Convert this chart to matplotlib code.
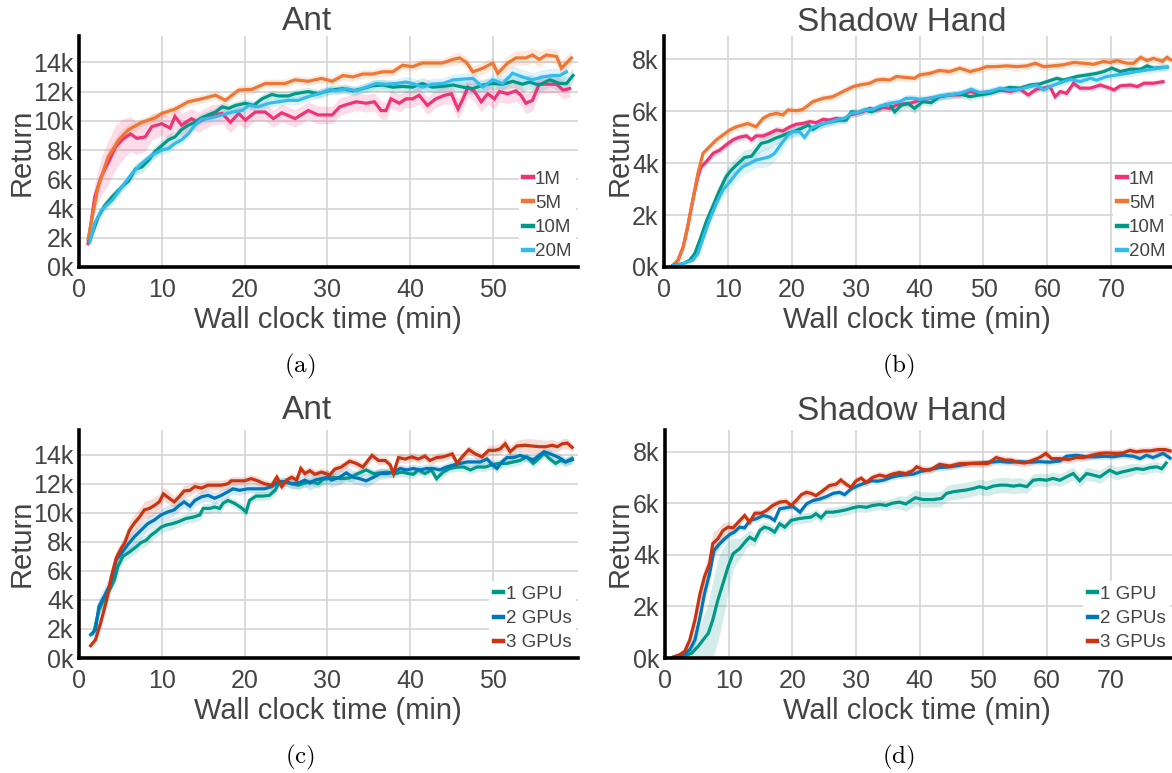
import matplotlib
matplotlib.use('Agg')
import matplotlib.pyplot as plt
from matplotlib.lines import Line2D
import numpy as np

plt.rcParams['font.family'] = ['Liberation Sans', 'DejaVu Sans']
plt.rcParams['mathtext.fontset'] = 'cm'

TEXT = '#444444'
GRID = '#d4d4d4'
C_MAG, C_ORA, C_TEAL, C_CYAN = '#EE3377', '#EE7733', '#009988', '#33BBEE'
C_BLUE, C_RED = '#0077BB', '#CC3311'

# ---------------- data: (a) Ant, buffer sizes (returns in thousands) ----------------
A_1M_t = [1.1,1.9,2.7,3.5,4.4,5.2,6.2,7.0,8.0,8.8,10.0,11.0,11.6,12.4,13.6,14.4,16.0,17.3,18.3,19.3,20.1,21.3,22.5,23.5,24.5,26.1,27.7,28.9,30.6,31.5,32.3,33.5,34.7,35.7,36.5,37.1,37.7,38.7,39.5,40.3,41.1,42.1,43.1,44.2,45.0,45.8,46.4,47.0,47.8,48.6,49.4,50.2,50.8,51.8,52.8,53.4,54.0,54.8,55.6,56.6,57.7,58.5,59.3]
A_1M_y = [1.6,4.8,6.2,7.1,8.2,8.7,9.1,8.8,8.9,9.6,9.8,9.5,10.3,9.7,10.15,9.9,10.4,10.5,9.9,10.5,10.05,10.6,10.6,10.15,10.55,10.15,10.7,10.4,10.4,10.95,11.1,11.3,11.2,11.3,10.7,10.7,11.5,11.2,11.5,11.5,11.75,11.05,11.5,11.75,11.85,10.8,11.5,12.3,12.0,11.3,11.85,11.5,12.0,11.85,12.05,11.75,11.2,11.4,12.5,12.5,12.5,12.1,12.2]
A_1M_w = [0.3,0.9,1.3,1.5,1.5,1.4,1.2,1.1,1.0,0.9,0.8,0.8,0.8,0.8,0.7,0.7,0.7,0.7,0.7,0.7,0.6,0.6,0.6,0.6,0.6,0.6,0.6,0.6,0.6,0.6,0.6,0.6,0.6,0.6,0.6,0.6,0.6,0.6,0.6,0.6,0.6,0.6,0.6,0.6,0.7,0.7,0.7,0.7,0.7,0.7,0.7,0.7,0.7,0.7,0.7,0.7,0.7,0.7,0.7,0.6,0.6,0.6,0.6]

A_5M_t = [1.1,2.3,3.5,4.8,6.0,7.6,9.2,10.0,11.6,13.2,14.8,16.5,17.7,19.3,20.9,22.5,23.7,24.9,26.1,27.7,29.3,30.6,31.9,33.1,34.3,35.5,36.7,37.9,39.1,40.3,41.5,42.7,43.9,45.2,46.0,46.8,47.6,48.8,50.0,50.6,51.8,52.8,54.0,54.8,55.6,56.5,57.7,58.3,59.5]
A_5M_y = [1.9,5.5,7.5,8.7,9.4,9.9,10.2,10.5,10.8,11.3,11.5,11.75,11.4,12.1,12.15,12.55,12.55,12.55,12.8,12.7,12.9,12.7,13.1,13.0,13.2,13.2,13.35,13.35,13.8,13.7,13.95,13.95,13.95,14.2,14.3,14.0,13.35,13.6,13.95,13.25,13.95,14.3,14.3,14.5,14.2,14.5,14.4,13.6,14.3]
A_5M_w = [0.2,0.4,0.5,0.5,0.4,0.3,0.3,0.3,0.3,0.3,0.3,0.3,0.3,0.3,0.3,0.3,0.3,0.3,0.3,0.3,0.3,0.3,0.3,0.3,0.3,0.3,0.3,0.3,0.3,0.3,0.3,0.3,0.3,0.4,0.4,0.4,0.4,0.4,0.4,0.4,0.5,0.5,0.5,0.5,0.5,0.5,0.5,0.5,0.5]

A_10M_t = [1.3,2.3,3.1,4.0,5.2,6.0,6.8,7.6,8.4,9.2,10.0,10.8,11.6,12.4,13.2,14.0,14.8,15.6,16.5,17.3,18.1,18.9,20.1,21.1,22.1,23.3,24.1,25.3,26.1,27.7,28.9,30.4,31.9,33.1,34.3,35.5,36.7,37.9,39.1,40.3,41.5,42.7,43.9,45.2,46.4,47.6,48.8,50.0,51.2,52.4,53.6,54.4,55.6,56.9,58.1,58.9,59.7]
A_10M_y = [1.8,3.4,4.2,4.8,5.5,5.9,6.7,6.85,7.3,7.9,8.3,8.7,8.9,9.4,9.7,9.9,10.2,10.4,10.6,10.95,10.85,11.05,11.2,11.05,11.5,11.8,11.7,11.7,11.85,12.0,11.85,12.1,12.2,12.05,12.2,12.4,12.45,12.3,12.35,12.3,12.55,12.3,12.35,12.45,12.3,12.2,12.45,12.55,12.5,12.7,12.5,12.65,12.45,12.8,12.55,12.55,13.1]
A_10M_w = [0.2,0.3,0.3,0.3,0.3,0.3,0.4,0.4,0.4,0.4,0.4,0.4,0.4,0.4,0.4,0.3,0.3,0.3,0.3,0.3,0.3,0.3,0.3,0.3,0.3,0.3,0.3,0.3,0.3,0.3,0.3,0.3,0.3,0.3,0.3,0.4,0.4,0.4,0.4,0.4,0.4,0.4,0.4,0.4,0.4,0.4,0.4,0.4,0.4,0.4,0.5,0.5,0.5,0.5,0.5,0.5,0.5]

A_20M_t = [1.3,1.9,2.7,4.0,5.2,6.4,7.6,8.8,10.0,10.8,11.6,12.4,13.2,14.0,14.8,16.0,17.3,18.5,19.7,20.5,21.7,22.9,24.1,25.3,26.5,27.7,28.9,30.4,31.0,32.3,33.5,34.7,35.9,37.1,38.3,39.5,40.3,41.5,42.7,44.0,45.2,46.4,47.6,48.8,50.0,51.2,52.4,53.6,54.8,56.0,57.3,58.1,58.9]
A_20M_y = [1.7,3.0,3.9,4.55,5.5,6.4,7.1,7.65,8.0,8.1,8.45,8.7,9.1,9.7,10.1,10.2,10.4,10.6,10.7,11.05,10.95,11.2,11.3,11.4,11.4,11.65,11.85,12.15,12.05,12.2,12.05,12.3,12.55,12.5,12.55,12.65,12.55,12.3,12.5,12.55,12.8,12.85,12.9,12.3,12.8,12.55,13.25,13.0,12.8,13.0,13.1,13.1,13.35]
A_20M_w = [0.2,0.3,0.3,0.3,0.3,0.3,0.3,0.3,0.3,0.3,0.3,0.3,0.3,0.3,0.3,0.3,0.3,0.3,0.3,0.3,0.3,0.3,0.3,0.3,0.3,0.3,0.3,0.3,0.3,0.3,0.3,0.3,0.3,0.3,0.3,0.4,0.4,0.4,0.4,0.4,0.4,0.4,0.4,0.4,0.4,0.5,0.5,0.5,0.5,0.5,0.5,0.5,0.5]

# ---------------- data: (b) Shadow Hand, buffer sizes ----------------
B_1M_t = [1.4,2.2,3.0,3.7,4.5,5.3,5.8,6.6,7.7,8.7,9.7,10.8,11.8,12.9,13.7,14.4,15.5,16.5,17.6,18.6,19.7,20.7,21.7,22.8,23.8,24.9,25.9,27.0,28.0,29.1,30.1,31.1,32.2,33.2,34.3,35.3,36.4,37.4,38.5,40.0,41.6,43.1,44.7,46.3,47.9,49.4,51.0,52.6,54.2,55.7,57.0,58.3,59.4,60.4,61.2,62.0,63.0,64.1,65.1,66.7,68.3,69.8,70.4,71.4,73.0,74.1,75.1,76.6,78.1]
B_1M_y = [0.06,0.26,0.77,1.54,2.57,3.47,3.86,4.05,4.38,4.5,4.7,4.9,5.0,5.05,4.9,5.05,5.05,5.15,5.28,5.24,5.4,5.5,5.53,5.6,5.56,5.69,5.66,5.73,5.66,5.86,5.92,5.98,6.11,6.05,6.15,6.11,6.24,6.28,6.3,6.43,6.5,6.56,6.63,6.63,6.76,6.69,6.76,6.82,6.76,6.85,6.63,6.85,6.89,6.95,6.56,6.76,6.69,7.08,6.89,6.89,7.01,6.89,6.82,6.98,7.01,6.95,7.08,7.08,7.14]
B_1M_w = [0.05,0.1,0.1,0.15,0.15,0.15,0.15,0.15,0.15,0.15,0.15,0.15,0.15,0.15,0.15,0.15,0.15,0.15,0.15,0.15,0.12,0.12,0.12,0.12,0.12,0.12,0.12,0.12,0.12,0.12,0.12,0.12,0.12,0.12,0.12,0.12,0.12,0.12,0.12,0.12,0.12,0.12,0.12,0.12,0.12,0.12,0.12,0.12,0.12,0.12,0.12,0.12,0.12,0.12,0.12,0.12,0.12,0.12,0.12,0.12,0.12,0.12,0.12,0.12,0.12,0.12,0.12,0.12,0.12]

B_5M_t = [1.4,2.2,3.0,3.7,4.5,5.3,6.1,7.1,8.2,9.2,10.3,11.3,12.3,13.1,14.4,15.5,16.5,17.6,18.6,19.4,20.7,21.7,23.3,24.9,26.4,28.0,29.6,30.6,32.2,33.2,34.3,35.3,36.4,37.9,39.2,40.0,41.6,43.1,44.7,46.3,47.9,49.4,50.5,52.0,53.6,55.2,56.8,58.1,59.4,60.9,62.5,64.1,65.7,67.2,68.8,69.8,70.9,72.5,73.5,74.6,75.6,76.6,78.0,78.7,79.3]
B_5M_y = [0.06,0.26,0.77,1.54,2.57,3.6,4.38,4.63,4.9,5.08,5.28,5.4,5.47,5.53,5.4,5.73,5.86,5.92,5.86,6.05,6.02,6.07,6.37,6.5,6.56,6.76,6.95,7.01,7.08,7.2,7.23,7.2,7.34,7.3,7.27,7.4,7.46,7.57,7.53,7.66,7.53,7.62,7.72,7.72,7.75,7.72,7.75,7.85,7.72,7.75,7.79,7.88,7.85,7.81,7.92,7.88,7.95,7.85,7.85,8.08,7.95,8.04,7.92,8.08,7.98]
B_5M_w = [0.05,0.1,0.1,0.1,0.1,0.15,0.15,0.15,0.15,0.15,0.15,0.15,0.15,0.15,0.15,0.15,0.15,0.15,0.15,0.15,0.15,0.15,0.15,0.15,0.15,0.15,0.15,0.15,0.15,0.15,0.15,0.15,0.15,0.15,0.15,0.15,0.15,0.15,0.15,0.15,0.15,0.15,0.15,0.15,0.15,0.15,0.15,0.15,0.15,0.15,0.15,0.15,0.15,0.15,0.15,0.15,0.15,0.15,0.15,0.15,0.15,0.15,0.15,0.15,0.15]

B_10M_t = [1.4,3.0,4.0,4.8,5.6,6.6,7.7,8.7,9.7,10.5,11.6,12.6,13.7,14.4,15.2,16.3,17.3,18.4,19.4,20.2,21.5,22.6,23.3,24.4,25.4,26.4,27.5,28.5,29.3,30.4,31.4,32.5,33.5,34.5,35.3,36.1,37.2,38.2,39.2,40.5,41.8,43.1,44.7,46.3,47.9,49.4,51.0,52.6,54.1,55.7,57.3,58.8,59.9,61.5,62.5,63.6,64.6,66.2,67.7,68.8,70.1,71.4,73.0,74.6,75.6,76.6,78.7]
B_10M_y = [0.06,0.13,0.26,0.51,1.03,1.74,2.38,2.96,3.47,3.73,3.99,4.22,4.27,4.5,4.76,4.83,4.95,5.05,5.15,5.21,5.34,5.47,5.3,5.47,5.56,5.6,5.66,5.66,5.98,5.95,6.05,5.98,6.11,6.24,6.28,5.98,6.24,6.3,6.11,6.37,6.33,6.56,6.63,6.67,6.56,6.63,6.69,6.82,6.92,6.89,7.01,7.05,7.14,7.27,7.2,7.27,7.34,7.4,7.46,7.53,7.66,7.53,7.62,7.62,7.75,7.66,7.7]
B_10M_w = [0.05,0.05,0.05,0.1,0.15,0.2,0.2,0.25,0.3,0.3,0.3,0.3,0.3,0.3,0.3,0.3,0.25,0.25,0.2,0.2,0.2,0.15,0.15,0.15,0.15,0.15,0.15,0.15,0.15,0.15,0.15,0.15,0.15,0.15,0.2,0.2,0.2,0.2,0.2,0.15,0.15,0.15,0.15,0.15,0.15,0.12,0.12,0.12,0.12,0.12,0.12,0.12,0.12,0.12,0.12,0.12,0.12,0.12,0.12,0.12,0.12,0.12,0.12,0.12,0.12,0.12,0.12]

B_20M_t = [1.4,3.0,4.5,5.3,6.1,7.1,8.2,9.2,10.3,11.3,12.3,13.4,14.4,15.5,16.5,17.3,18.4,19.4,20.2,21.2,22.0,23.0,24.1,25.1,26.2,27.2,28.3,29.3,30.4,31.4,32.7,33.8,34.8,35.8,36.9,37.9,39.2,40.0,41.6,43.1,44.7,46.3,48.1,49.4,51.0,52.6,54.1,55.7,57.3,58.3,59.4,60.4,62.0,63.6,65.1,66.7,67.7,69.3,70.9,72.5,74.0,75.6,77.2,78.8]
B_20M_y = [0.04,0.13,0.26,0.51,1.09,1.8,2.45,2.96,3.28,3.6,3.86,3.99,4.12,4.18,4.25,4.38,4.76,5.08,5.21,5.21,5.0,5.34,5.47,5.53,5.6,5.69,5.73,5.92,5.95,6.05,6.07,6.2,6.24,6.33,6.37,6.5,6.5,6.46,6.5,6.59,6.63,6.69,6.85,6.72,6.76,6.89,6.82,6.85,6.95,7.01,6.82,6.95,7.1,7.23,7.14,7.27,7.2,7.34,7.4,7.46,7.53,7.59,7.66,7.7]
B_20M_w = [0.05,0.05,0.05,0.1,0.15,0.2,0.2,0.25,0.3,0.3,0.3,0.3,0.3,0.35,0.35,0.3,0.3,0.25,0.2,0.2,0.15,0.15,0.15,0.15,0.15,0.15,0.15,0.15,0.15,0.15,0.15,0.15,0.15,0.15,0.15,0.15,0.15,0.15,0.15,0.15,0.15,0.15,0.15,0.15,0.15,0.15,0.15,0.15,0.15,0.15,0.15,0.15,0.15,0.15,0.15,0.15,0.15,0.15,0.15,0.15,0.15,0.15,0.15,0.15]

# ---------------- data: (c) Ant, number of GPUs ----------------
C_1G_t = [1.4,1.8,2.4,3.0,3.7,4.3,4.7,5.3,6.1,6.9,7.5,8.1,8.7,9.3,9.9,10.5,11.3,12.1,12.9,13.8,14.6,15.0,15.8,16.4,17.0,17.4,18.0,18.8,19.6,20.2,20.6,21.4,22.2,23.0,23.7,24.1,24.9,25.7,26.5,27.3,28.1,28.9,29.5,30.1,30.7,31.7,32.7,33.7,34.7,35.6,36.4,37.2,38.2,39.0,39.8,40.4,41.0,41.8,42.6,43.2,44.0,44.8,45.7,46.5,47.3,48.1,49.1,49.9,50.7,51.7,52.5,53.3,54.1,54.9,55.6,56.2,56.8,57.6,58.2,58.8,59.6]
C_1G_y = [1.6,1.8,3.3,4.0,4.7,5.4,6.3,7.0,7.3,7.65,7.95,8.1,8.45,8.7,9.0,9.15,9.25,9.4,9.6,9.7,9.85,10.3,10.3,10.4,10.3,10.65,10.85,10.65,10.35,10.05,10.85,11.15,11.15,11.2,11.55,12.0,12.15,12.0,11.9,12.05,12.15,12.0,12.3,12.35,12.45,12.35,12.4,12.7,12.95,12.7,12.75,12.8,12.7,12.8,12.7,12.65,12.95,12.7,12.95,12.35,12.8,13.05,13.15,13.15,12.95,13.15,13.15,13.3,13.4,13.4,13.5,13.6,13.85,13.4,13.75,14.1,13.75,13.4,13.6,13.5,13.75]
C_1G_w = [0.2,0.3,0.4,0.4,0.4,0.4,0.4,0.4,0.4,0.4,0.4,0.4,0.4,0.4,0.4,0.4,0.4,0.35,0.35,0.35,0.35,0.35,0.35,0.35,0.35,0.3,0.3,0.3,0.3,0.3,0.3,0.3,0.3,0.3,0.3,0.3,0.3,0.3,0.3,0.3,0.3,0.3,0.3,0.3,0.3,0.3,0.3,0.3,0.3,0.3,0.3,0.3,0.3,0.3,0.3,0.3,0.3,0.3,0.3,0.3,0.3,0.3,0.3,0.3,0.3,0.3,0.3,0.3,0.3,0.3,0.3,0.3,0.3,0.3,0.3,0.3,0.3,0.3,0.3,0.3,0.3]

C_2G_t = [1.6,2.0,2.4,3.0,3.7,4.1,4.5,5.1,5.9,6.7,7.5,8.3,9.1,9.9,10.7,11.5,12.1,12.7,13.4,14.0,14.8,15.6,16.4,17.2,18.0,18.6,19.4,20.4,21.4,22.4,23.3,24.1,24.9,25.7,26.5,27.3,27.9,28.5,29.3,30.1,30.5,31.5,32.3,33.1,33.9,34.7,35.6,36.4,37.2,38.0,38.8,39.6,40.4,41.2,42.0,42.8,43.6,44.4,45.3,46.1,46.9,47.7,48.5,49.3,49.9,50.5,51.1,51.7,52.5,53.3,54.1,54.9,55.6,56.2,57.0,58.0,58.8,59.6]
C_2G_y = [1.7,1.95,3.55,4.2,5.0,5.7,6.75,7.2,7.8,8.35,8.8,9.25,9.5,9.85,10.05,10.2,10.5,10.75,10.45,10.85,11.1,11.2,11.0,11.2,11.45,11.65,11.55,11.65,11.65,11.65,11.8,12.15,12.15,12.0,12.05,12.25,12.05,12.25,12.35,12.45,12.25,12.45,12.75,12.45,12.35,12.2,12.45,12.7,12.7,12.8,13.05,12.95,13.05,12.95,13.05,13.05,12.95,13.15,13.3,13.4,13.5,13.5,13.5,13.7,13.35,13.05,13.5,13.8,13.8,13.95,13.8,13.65,13.95,14.2,14.05,13.8,13.5,13.65]
C_2G_w = [0.2,0.4,0.6,0.6,0.6,0.6,0.5,0.5,0.5,0.5,0.5,0.5,0.45,0.45,0.45,0.4,0.4,0.4,0.4,0.4,0.4,0.4,0.4,0.4,0.35,0.35,0.35,0.3,0.3,0.3,0.3,0.3,0.3,0.35,0.4,0.45,0.5,0.5,0.5,0.5,0.5,0.5,0.5,0.45,0.45,0.45,0.4,0.4,0.35,0.35,0.3,0.3,0.3,0.3,0.3,0.3,0.3,0.3,0.3,0.3,0.3,0.3,0.3,0.3,0.3,0.3,0.3,0.3,0.3,0.3,0.3,0.3,0.3,0.3,0.3,0.3,0.3,0.3]

C_3G_t = [1.4,2.0,2.6,3.3,3.9,4.5,5.1,5.5,6.1,6.7,7.3,7.9,8.5,9.1,9.7,10.2,10.9,11.5,12.1,12.7,13.4,14.0,14.8,15.6,16.4,17.2,18.0,18.4,19.2,20.0,20.8,21.6,22.4,23.3,23.9,24.5,25.1,25.7,26.3,26.8,27.3,27.9,28.5,29.3,30.3,30.9,31.7,32.7,33.5,34.3,35.4,36.2,37.0,37.6,38.0,38.6,39.4,40.2,41.0,41.8,42.4,43.2,44.0,45.1,45.7,46.3,47.1,47.9,48.7,49.5,50.3,50.9,51.5,52.1,52.9,53.9,54.7,55.6,56.4,57.2,57.8,58.4,59.0,59.6]
C_3G_y = [0.85,1.26,2.4,3.9,5.6,6.9,7.55,7.9,8.8,9.3,9.7,10.2,10.3,10.5,10.75,11.3,11.0,10.75,11.1,11.5,11.55,11.8,11.7,11.9,11.9,11.9,12.0,12.2,12.2,12.2,12.35,12.2,12.0,11.9,12.45,11.8,12.25,12.45,12.25,13.05,12.7,12.9,12.65,12.8,12.6,13.0,13.15,13.55,13.4,13.15,13.95,13.6,13.6,13.3,12.7,13.8,13.7,13.85,13.7,13.9,13.6,13.8,13.85,14.05,13.4,13.85,14.35,14.05,13.85,14.3,14.3,14.4,14.75,14.2,14.6,14.65,14.6,14.55,14.55,14.65,14.55,14.75,14.8,14.5]
C_3G_w = [0.2,0.3,0.4,0.5,0.5,0.5,0.5,0.5,0.6,0.6,0.6,0.6,0.6,0.6,0.5,0.5,0.45,0.4,0.4,0.4,0.4,0.4,0.35,0.35,0.35,0.35,0.35,0.3,0.3,0.3,0.3,0.3,0.3,0.3,0.3,0.3,0.3,0.3,0.3,0.3,0.3,0.3,0.3,0.3,0.3,0.3,0.3,0.3,0.3,0.3,0.3,0.3,0.3,0.3,0.3,0.3,0.3,0.3,0.3,0.3,0.3,0.3,0.3,0.3,0.3,0.3,0.3,0.3,0.3,0.35,0.35,0.4,0.4,0.4,0.4,0.45,0.5,0.5,0.45,0.4,0.35,0.35,0.35,0.3]

# ---------------- data: (d) Shadow Hand, number of GPUs ----------------
D_1G_t = [1.3,2.8,4.2,5.2,6.0,6.8,7.5,8.3,9.1,9.9,10.7,11.7,12.8,13.3,14.1,14.9,15.6,16.4,17.2,18.0,18.8,19.8,20.8,21.9,22.95,23.7,24.5,25.3,26.3,27.4,28.4,29.5,30.5,31.6,32.6,33.7,34.7,35.7,36.8,37.8,39.3,40.5,42.1,43.4,44.2,45.2,46.3,47.3,48.4,49.4,50.5,51.5,52.6,53.6,54.7,55.7,56.8,57.8,58.8,59.9,60.9,62.0,63.0,64.1,65.1,66.2,67.2,68.3,69.8,70.9,71.9,73.0,74.0,75.1,76.1,77.2,78.0,78.7]
D_1G_y = [0.0,0.06,0.19,0.45,0.71,0.96,1.48,2.25,2.89,3.54,4.05,4.24,4.57,4.69,4.57,4.95,5.08,5.02,4.89,5.21,5.08,5.34,5.4,5.44,5.47,5.6,5.44,5.66,5.66,5.7,5.75,5.83,5.88,5.85,5.92,5.96,5.92,6.01,6.05,5.98,6.22,6.15,6.15,6.19,6.39,6.45,6.49,6.52,6.58,6.65,6.58,6.67,6.71,6.71,6.67,6.71,6.65,6.9,6.93,6.9,6.97,6.9,7.03,7.16,6.88,7.16,7.1,7.03,7.29,7.16,7.23,7.29,7.35,7.32,7.39,7.42,7.35,7.57]
D_1G_w = [0.05,0.1,0.3,0.6,0.9,1.2,1.5,1.6,1.4,1.0,0.6,0.4,0.3,0.3,0.25,0.25,0.2,0.2,0.2,0.2,0.2,0.2,0.2,0.2,0.2,0.2,0.2,0.2,0.2,0.2,0.2,0.2,0.2,0.2,0.2,0.2,0.2,0.2,0.25,0.3,0.3,0.3,0.3,0.3,0.3,0.3,0.3,0.3,0.3,0.3,0.3,0.3,0.3,0.3,0.3,0.3,0.25,0.25,0.25,0.25,0.25,0.25,0.25,0.25,0.25,0.25,0.25,0.25,0.25,0.25,0.25,0.25,0.2,0.2,0.2,0.2,0.2,0.2]

D_2G_t = [1.3,2.8,3.9,4.7,5.5,6.2,7.0,7.7,8.6,9.4,10.2,10.9,11.7,12.5,13.3,14.3,15.4,16.4,17.2,18.0,19.0,20.1,21.2,22.2,23.2,24.3,25.3,26.4,27.4,28.2,29.2,30.3,31.3,32.4,33.4,34.4,35.5,36.5,37.8,39.1,40.0,41.6,43.1,44.7,46.3,47.9,49.4,51.0,52.6,54.1,55.7,57.3,58.8,60.4,62.0,63.0,64.6,66.2,67.7,69.1,70.4,71.9,73.5,74.6,75.6,76.6,78.2,79.3]
D_2G_y = [0.03,0.13,0.32,0.71,1.6,2.5,3.28,4.18,4.44,4.63,4.8,4.89,5.08,5.05,5.34,5.4,5.53,5.47,5.34,5.79,5.83,5.88,5.66,5.98,6.11,6.17,6.26,6.39,6.43,6.34,6.56,6.69,6.78,6.88,6.86,6.91,7.01,7.07,7.11,7.14,7.23,7.32,7.39,7.42,7.48,7.55,7.57,7.6,7.63,7.6,7.62,7.6,7.62,7.6,7.65,7.83,7.87,7.81,7.81,7.83,7.81,7.87,7.83,7.74,7.87,7.78,7.94,7.76]
D_2G_w = [0.05,0.1,0.2,0.3,0.3,0.3,0.3,0.25,0.2,0.15,0.15,0.15,0.12,0.12,0.12,0.12,0.12,0.12,0.12,0.12,0.12,0.12,0.12,0.12,0.12,0.12,0.12,0.12,0.12,0.12,0.12,0.12,0.12,0.12,0.12,0.12,0.12,0.12,0.12,0.12,0.12,0.12,0.12,0.12,0.12,0.12,0.12,0.12,0.12,0.12,0.12,0.12,0.12,0.12,0.12,0.12,0.12,0.12,0.12,0.12,0.12,0.12,0.12,0.12,0.12,0.12,0.12,0.12]

D_3G_t = [1.3,2.3,3.1,3.9,4.7,5.5,6.2,7.0,7.5,8.3,9.1,9.9,10.7,11.5,12.5,13.3,14.1,15.1,15.9,16.9,18.0,19.0,19.8,20.6,21.4,22.2,22.95,23.7,24.8,25.8,26.9,27.6,28.4,29.2,30.0,30.8,31.6,32.6,33.7,34.7,35.7,36.8,37.8,38.9,39.5,40.5,41.6,43.1,44.7,46.3,47.9,49.4,50.7,52.0,53.4,54.4,55.2,56.5,57.8,58.8,59.8,60.7,62.0,63.3,64.6,65.7,67.0,68.3,69.3,70.9,71.9,73.0,74.0,75.1,76.1,77.4,78.5,79.3]
D_3G_y = [0.04,0.13,0.26,0.71,1.48,2.5,3.15,3.67,4.44,4.63,4.95,5.08,5.05,5.27,5.53,5.27,5.62,5.62,5.72,5.92,6.05,6.08,5.92,6.11,6.34,6.43,6.39,6.3,6.5,6.69,6.75,6.91,6.75,6.62,6.88,6.98,6.82,7.01,7.1,7.04,7.14,7.2,7.16,7.27,7.42,7.32,7.29,7.52,7.45,7.55,7.55,7.55,7.55,7.78,7.68,7.68,7.61,7.57,7.68,7.78,7.94,7.74,7.74,7.7,7.78,7.78,7.87,7.94,7.96,7.94,7.96,8.06,8.0,8.04,8.04,8.09,8.09,8.04]
D_3G_w = [0.05,0.1,0.15,0.2,0.3,0.35,0.4,0.45,0.45,0.4,0.3,0.2,0.15,0.15,0.15,0.15,0.15,0.15,0.15,0.15,0.15,0.15,0.15,0.15,0.15,0.15,0.15,0.15,0.15,0.15,0.15,0.15,0.15,0.15,0.15,0.15,0.15,0.15,0.15,0.15,0.15,0.15,0.15,0.15,0.15,0.15,0.15,0.15,0.15,0.15,0.15,0.15,0.15,0.15,0.15,0.15,0.15,0.15,0.15,0.15,0.15,0.15,0.15,0.15,0.15,0.15,0.15,0.15,0.15,0.15,0.15,0.15,0.15,0.15,0.15,0.15,0.15,0.15]

# ---------------- labels / ticks ----------------
BUFFER_LABELS = ['1M', '5M', '10M', '20M']
GPU_LABELS = ['1 GPU', '2 GPUs', '3 GPUs']
ANT_YTICKS = [0, 2, 4, 6, 8, 10, 12, 14]
ANT_YLABELS = ['0k', '2k', '4k', '6k', '8k', '10k', '12k', '14k']
HAND_YTICKS = [0, 2, 4, 6, 8]
HAND_YLABELS = ['0k', '2k', '4k', '6k', '8k']
ANT_XTICKS = [0, 10, 20, 30, 40, 50]
HAND_XTICKS = [0, 10, 20, 30, 40, 50, 60, 70]
TITLES = ['Ant', 'Shadow Hand', 'Ant', 'Shadow Hand']
CAPTIONS = ['(a)', '(b)', '(c)', '(d)']
XLABEL = 'Wall clock time (min)'
YLABEL = 'Return'

# ---------------- figure ----------------
W, H = 1172, 773
fig = plt.figure(figsize=(W / 100, H / 100), dpi=100)


def px_axes(left, right, top, bottom):
    return fig.add_axes([left / W, 1 - bottom / H, (right - left) / W, (bottom - top) / H])


def style(ax, xlim, ylim, xticks, yticks, ylabels):
    ax.set_xlim(*xlim)
    ax.set_ylim(*ylim)
    ax.set_xticks(xticks)
    ax.set_xticklabels([str(v) for v in xticks])
    ax.set_yticks(yticks)
    ax.set_yticklabels(ylabels)
    ax.grid(True, color=GRID, lw=1.2)
    ax.set_axisbelow(True)
    for s in ('top', 'right'):
        ax.spines[s].set_visible(False)
    for s in ('left', 'bottom'):
        ax.spines[s].set_linewidth(2.6)
        ax.spines[s].set_color('black')
    ax.tick_params(axis='both', length=0, labelsize=18, labelcolor=TEXT)
    ax.tick_params(axis='x', pad=8)
    ax.tick_params(axis='y', pad=4)


def draw(ax, series, colors, labels):
    for (t, y, w), c in zip(series, colors):
        t = np.asarray(t); y = np.asarray(y); w = np.asarray(w)
        ax.fill_between(t, y - w, y + w, color=c, alpha=0.17, lw=0)
    for (t, y, w), c in zip(series, colors):
        ax.plot(t, y, color=c, lw=2.3, solid_joinstyle='miter')
    handles = [Line2D([], [], color=c, lw=3.2) for c in colors]
    leg = ax.legend(handles, labels, loc='lower right', bbox_to_anchor=(1.0, 0.0),
                    fontsize=13.5, handlelength=0.5, handletextpad=0.12, labelspacing=0.38,
                    borderpad=0.25, borderaxespad=0.1, frameon=True, fancybox=False)
    fr = leg.get_frame()
    fr.set_facecolor('white'); fr.set_edgecolor('none'); fr.set_alpha(1.0)
    for tx in leg.get_texts():
        tx.set_color(TEXT)


ax_a = px_axes(79, 578, 36, 267)
ax_b = px_axes(664, 1172, 36, 267)
ax_c = px_axes(79, 578, 430, 658)
ax_d = px_axes(665, 1172, 430, 658)

draw(ax_a, [(A_1M_t, A_1M_y, A_1M_w), (A_5M_t, A_5M_y, A_5M_w), (A_10M_t, A_10M_y, A_10M_w), (A_20M_t, A_20M_y, A_20M_w)],
     [C_MAG, C_ORA, C_TEAL, C_CYAN], BUFFER_LABELS)
draw(ax_b, [(B_1M_t, B_1M_y, B_1M_w), (B_5M_t, B_5M_y, B_5M_w), (B_10M_t, B_10M_y, B_10M_w), (B_20M_t, B_20M_y, B_20M_w)],
     [C_MAG, C_ORA, C_TEAL, C_CYAN], BUFFER_LABELS)
draw(ax_c, [(C_1G_t, C_1G_y, C_1G_w), (C_2G_t, C_2G_y, C_2G_w), (C_3G_t, C_3G_y, C_3G_w)],
     [C_TEAL, C_BLUE, C_RED], GPU_LABELS)
draw(ax_d, [(D_1G_t, D_1G_y, D_1G_w), (D_2G_t, D_2G_y, D_2G_w), (D_3G_t, D_3G_y, D_3G_w)],
     [C_TEAL, C_BLUE, C_RED], GPU_LABELS)

style(ax_a, (0, 60.3), (0, 15.8), ANT_XTICKS, ANT_YTICKS, ANT_YLABELS)
style(ax_b, (0, 79.5), (0, 8.9), HAND_XTICKS, HAND_YTICKS, HAND_YLABELS)
style(ax_c, (0, 60.3), (0, 15.7), ANT_XTICKS, ANT_YTICKS, ANT_YLABELS)
style(ax_d, (0, 79.6), (0, 8.85), HAND_XTICKS, HAND_YTICKS, HAND_YLABELS)


def ftext(x, y, s, **kw):
    fig.text(x / W, 1 - y / H, s, **kw)


title_pos = [(307, 30), (902, 31), (307, 419), (902, 420)]
xlabel_pos = [(328, 328), (917, 328), (328, 719), (917, 719)]
ylabel_pos = [(22, 152), (620, 152), (22, 543), (620, 543)]
caption_pos = [(300, 366), (898, 366), (300, 757), (898, 757)]
for i in range(4):
    ftext(*title_pos[i], TITLES[i], fontsize=24, color=TEXT, ha='center', va='baseline')
    ftext(*xlabel_pos[i], XLABEL, fontsize=21, color=TEXT, ha='center', va='baseline')
    ftext(*ylabel_pos[i], YLABEL, fontsize=21, color=TEXT, ha='center', va='center', rotation=90)
    ftext(*caption_pos[i], r'$\mathrm{' + CAPTIONS[i] + '}$', fontsize=18, color='black', ha='center', va='center')

fig.savefig('out.png', dpi=100, facecolor='white')
